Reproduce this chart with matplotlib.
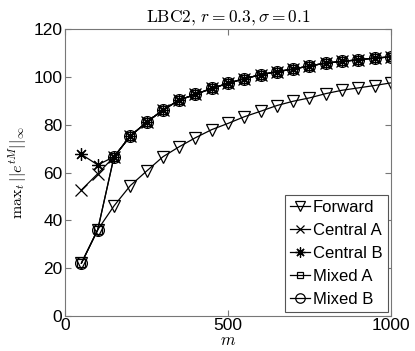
import matplotlib
matplotlib.use('Agg')
import matplotlib.pyplot as plt

plt.rcParams['font.family'] = ['Liberation Sans', 'DejaVu Sans']
plt.rcParams['mathtext.fontset'] = 'cm'

# Data
m = [50, 100, 150, 200, 250, 300, 350, 400, 450, 500,
     550, 600, 650, 700, 750, 800, 850, 900, 950, 1000]
forward = [22, 36, 46, 54.5, 60.6, 66.6, 70.8, 74.6, 78, 80.6,
           83.4, 85.7, 88.1, 89.9, 91.3, 93.1, 94.5, 95.5, 96.5, 97.6]
mixed = [22, 36, 66.6, 75.3, 81.1, 86.2, 90.4, 92.8, 95.3, 97.4,
         99.4, 101, 102.3, 103.4, 104.7, 105.9, 106.6, 107.3, 108, 108.5]
central_a = [52.7, 59.5] + mixed[2:]
central_b = [67.6, 63.2] + mixed[2:]

series = [
    ('Forward', forward, 'v', 9),
    ('Central A', central_a, 'x', 8),
    ('Central B', central_b, (8, 2, 0), 9),
    ('Mixed A', mixed, 's', 5.5),
    ('Mixed B', mixed, 'o', 8.5),
]

fig = plt.figure(figsize=(4.15, 3.51), dpi=100)
ax = fig.add_axes([0.157, 0.101, 0.785, 0.815])

for label, vals, mk, ms in series:
    ax.plot(m, vals, color='black', linewidth=0.9, marker=mk, markersize=ms,
            markerfacecolor='none', markeredgecolor='black', markeredgewidth=0.9,
            label=label)

ax.set_xlim(0, 1000)
ax.set_ylim(0, 120)
ax.set_xticks([0, 500, 1000])
ax.set_yticks([0, 20, 40, 60, 80, 100, 120])
ax.tick_params(direction='in', top=True, right=True, labelsize=12.5,
               color='#777777', length=4, pad=2)
for s in ax.spines.values():
    s.set_color('#777777')

ax.set_title(r'$\mathrm{LBC2},\, r = 0.3, \sigma = 0.1$', fontsize=12.5, pad=5)
ax.set_xlabel(r'$m$', fontsize=12, labelpad=0)
ax.set_ylabel(r'$\mathrm{max}_t\, ||e^{tM}||_\infty$', fontsize=11.5, labelpad=3)

leg = ax.legend(loc='lower right', fontsize=12, handlelength=1.2, handletextpad=0.2,
                borderpad=0.3, labelspacing=0.48, fancybox=False, framealpha=1,
                borderaxespad=0.2, markerscale=0.8)
leg.get_frame().set_edgecolor('#555555')
leg.get_frame().set_linewidth(0.8)

plt.savefig('out.png', dpi=100)
